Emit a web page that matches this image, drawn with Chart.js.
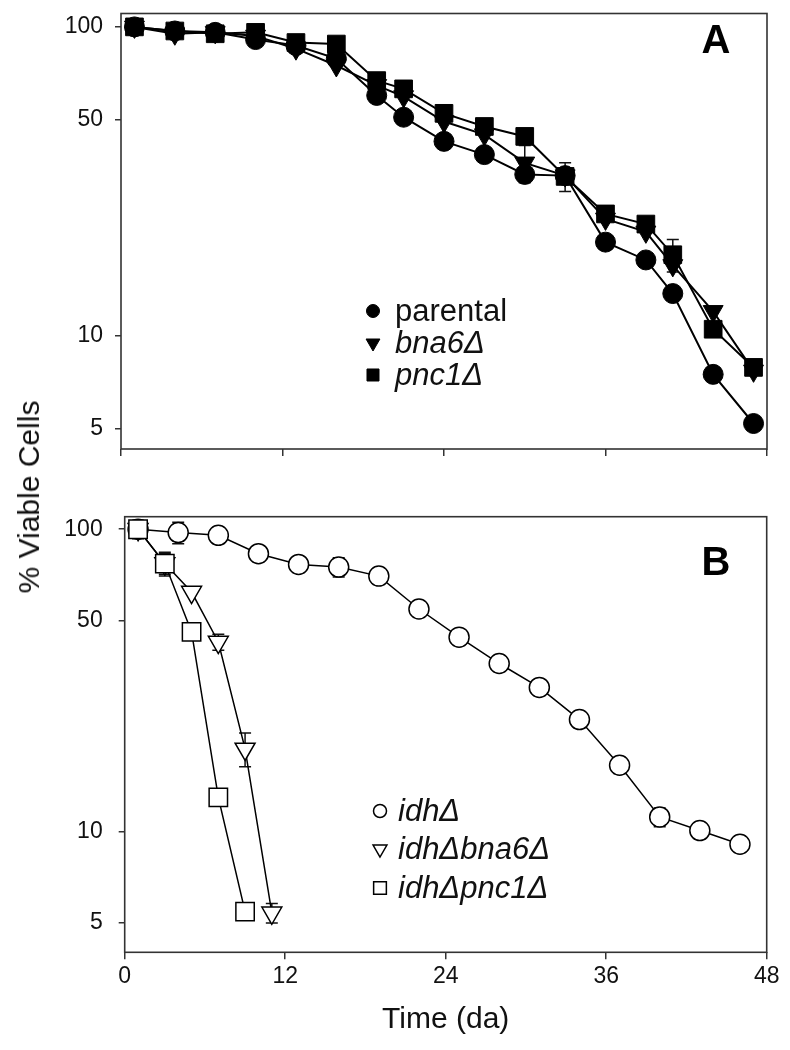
<!DOCTYPE html>
<html>
<head>
<meta charset="utf-8">
<script src="https://cdn.jsdelivr.net/npm/chart.js@4"></script>
<style>
html,body{margin:0;padding:0;background:#fff;}
#wrap{position:relative;width:790px;height:1050px;overflow:hidden;}
#cA{position:absolute;left:0;top:0;width:790px;height:480px;}
#cB{position:absolute;left:0;top:480px;width:790px;height:570px;}
#ytitle{position:absolute;left:29px;top:497px;transform:translate(-50%,-50%) rotate(-90deg);
  font:30px "Liberation Sans",Arial,sans-serif;white-space:nowrap;color:#111;}
</style>
</head>
<body>
<div id="wrap">
  <canvas id="cA" width="790" height="480"></canvas>
  <canvas id="cB" width="790" height="570"></canvas>
  <div id="ytitle">% Viable Cells</div>
</div>
<script>
// ---------- data ----------
const xTicks = [0, 12, 24, 36, 48];
const yTicks = [5, 10, 50, 100];

// Panel A
const timeA    = [1, 4, 7, 10, 13, 16, 19, 21, 24, 27, 30, 33, 36, 39, 41, 44, 47];
const parental = [100, 97, 96, 91, 87, 79, 60, 51, 42.6, 38.6, 33.3, 33, 20.1, 17.6, 13.7, 7.5, 5.2];
const bna6     = [100, 95, 96, 93.5, 85, 75, 64.7, 59.5, 49.4, 44.8, 36.3, 33, 23.9, 21.7, 16.9, 12.0, 7.7];
const pnc1     = [100, 97, 95, 96, 89, 88, 67, 63, 52.5, 47.6, 44.2, 32.8, 24.8, 23.0, 18.3, 10.5, 7.9];
const errParental = [null,null,null,null,null,null,null,null,null,null,null,null,null,null,null,null,null];
const errBna6     = [null,null,null,null,null,null,null,null,null,null,5,null,null,null,null,null,null];
const errPnc1     = [null,null,null,null,null,null,null,null,null,null,null,3.5,null,null,2.2,null,null];

// Panel B
const timeIdh  = [1, 4, 7, 10, 13, 16, 19, 22, 25, 28, 31, 34, 37, 40, 43, 46];
const idh      = [100, 97.5, 95.5, 83, 76.5, 75, 70, 54.5, 44, 36, 30, 23.5, 16.6, 11.2, 10.1, 9.1];
const errIdh   = [null, 8, null, null, null, 5.5, null, null, null, null, null, null, 1, 0.8, null, null];
const timeIdhBna6 = [1, 3, 5, 7, 9, 11];
const idhBna6     = [100, 77, 62, 42.4, 18.8, 5.4];
const errIdhBna6  = [null, 7, null, 2.6, 2.4, 0.4];
const timeIdhPnc1 = [1, 3, 5, 7, 9];
const idhPnc1     = [100, 77, 45.8, 13, 5.45];
const errIdhPnc1  = [7, 6, null, null, null];

// ---------- helpers ----------
const FONT = '"Liberation Sans", Arial, sans-serif';
const pts = (xs, ys) => xs.map((x, i) => ({x: x, y: ys[i]}));

const errorBars = {
  id: 'errorBars',
  beforeDatasetsDraw(chart) {
    const ctx = chart.ctx, ys = chart.scales.y;
    ctx.save();
    ctx.strokeStyle = '#111';
    ctx.lineWidth = 1.5;
    chart.data.datasets.forEach((ds, di) => {
      if (!ds.errors) return;
      const meta = chart.getDatasetMeta(di);
      ds.errors.forEach((e, i) => {
        if (e == null) return;
        const v = ds.data[i].y, el = meta.data[i];
        const yt = ys.getPixelForValue(v + e), yb = ys.getPixelForValue(v - e);
        ctx.beginPath();
        ctx.moveTo(el.x, yt); ctx.lineTo(el.x, yb);
        ctx.moveTo(el.x - 6, yt); ctx.lineTo(el.x + 6, yt);
        ctx.moveTo(el.x - 6, yb); ctx.lineTo(el.x + 6, yb);
        ctx.stroke();
      });
    });
    ctx.restore();
  }
};

const frame = {
  id: 'frame',
  beforeDatasetsDraw(chart) {
    const a = chart.chartArea, ctx = chart.ctx;
    ctx.save();
    ctx.strokeStyle = '#333';
    ctx.lineWidth = 1.6;
    ctx.strokeRect(a.left, a.top, a.right - a.left, a.bottom - a.top);
    ctx.restore();
  }
};

const innerLegend = {
  id: 'innerLegend',
  afterDraw(chart, args, o) {
    const ctx = chart.ctx;
    ctx.save();
    chart.data.datasets.forEach((ds, i) => {
      const y = o.rows[i];
      ctx.fillStyle = ds.backgroundColor;
      ctx.strokeStyle = ds.borderColor;
      ctx.lineWidth = ds.pointBorderWidth || 1;
      Chart.helpers.drawPoint(ctx, {
        pointStyle: ds.pointStyle, radius: o.radii[i],
        rotation: ds.pointRotation || 0, borderWidth: ds.pointBorderWidth || 1
      }, o.markerX, y);
      ctx.fillStyle = '#111';
      ctx.font = (ds.italic ? 'italic ' : '') + '31px ' + FONT;
      ctx.textAlign = 'left';
      ctx.textBaseline = 'alphabetic';
      ctx.fillText(ds.label, o.textX, y + 10);
    });
    ctx.fillStyle = '#000';
    ctx.font = 'bold 40px ' + FONT;
    ctx.textAlign = 'center';
    ctx.fillText(o.letter, o.letterX, o.letterY);
    ctx.restore();
  }
};

function makeScales(cfg) {
  return {
    x: {
      type: 'linear', min: 0, max: 48,
      afterBuildTicks: s => { s.ticks = xTicks.map(v => ({value: v})); },
      afterFit: s => { s.height = cfg.xHeight; s.paddingLeft = 0; s.paddingRight = 0; },
      grid: {drawOnChartArea: false, drawTicks: true, tickLength: 7, color: '#333', lineWidth: 1.5},
      border: {display: false},
      ticks: {display: cfg.showX, color: '#111', font: {family: FONT, size: 23}, padding: 4},
      title: {display: cfg.showX, text: 'Time (da)', color: '#111',
              font: {family: FONT, size: 30}, padding: {top: 0, bottom: 12}}
    },
    y: {
      type: 'logarithmic', min: cfg.ymin, max: cfg.ymax,
      afterBuildTicks: s => { s.ticks = yTicks.map(v => ({value: v})); },
      afterFit: s => { s.width = cfg.yWidth; s.paddingTop = 0; s.paddingBottom = 0; },
      grid: {drawOnChartArea: false, drawTicks: true, tickLength: 6, color: '#333', lineWidth: 1.5},
      border: {display: false},
      ticks: {color: '#111', font: {family: FONT, size: 23}, padding: cfg.yPad,
              callback: v => String(v)}
    }
  };
}

const common = {
  responsive: false, animation: false,
  plugins: {legend: {display: false}, tooltip: {enabled: false}}
};

// ---------- Panel A ----------
new Chart(document.getElementById('cA'), {
  type: 'line',
  data: {
    datasets: [
      {label: 'parental', italic: false, data: pts(timeA, parental), errors: errParental,
       borderColor: '#000', backgroundColor: '#000', borderWidth: 2,
       pointStyle: 'circle', pointRadius: 10, pointBorderWidth: 1, order: 2},
      {label: 'bna6Δ', italic: true, data: pts(timeA, bna6), errors: errBna6,
       borderColor: '#000', backgroundColor: '#000', borderWidth: 2,
       pointStyle: 'triangle', pointRotation: 180, pointRadius: 11.5, pointBorderWidth: 1, order: 1},
      {label: 'pnc1Δ', italic: true, data: pts(timeA, pnc1), errors: errPnc1,
       borderColor: '#000', backgroundColor: '#000', borderWidth: 2,
       pointStyle: 'rect', pointRadius: 12.5, pointBorderWidth: 1, order: 0}
    ]
  },
  options: Object.assign({}, common, {
    layout: {padding: {left: 0, right: 23, top: 9.5, bottom: 0}},
    scales: makeScales({xHeight: 31, showX: false, yWidth: 121, yPad: 12, ymin: 4.3, ymax: 110.5}),
    plugins: Object.assign({}, common.plugins, {
      innerLegend: {rows: [311, 343, 375], radii: [6.5, 8, 8.5], markerX: 373, textX: 395,
                    letter: 'A', letterX: 716, letterY: 53}
    })
  }),
  plugins: [frame, errorBars, innerLegend]
});

// ---------- Panel B ----------
new Chart(document.getElementById('cB'), {
  type: 'line',
  data: {
    datasets: [
      {label: 'idhΔ', italic: true, data: pts(timeIdh, idh), errors: errIdh,
       borderColor: '#000', backgroundColor: '#fff', borderWidth: 1.5,
       pointStyle: 'circle', pointRadius: 10, pointBorderWidth: 1.5, order: 2},
      {label: 'idhΔbna6Δ', italic: true, data: pts(timeIdhBna6, idhBna6), errors: errIdhBna6,
       borderColor: '#000', backgroundColor: '#fff', borderWidth: 1.5,
       pointStyle: 'triangle', pointRotation: 180, pointRadius: 11.5, pointBorderWidth: 1.5, order: 1},
      {label: 'idhΔpnc1Δ', italic: true, data: pts(timeIdhPnc1, idhPnc1), errors: errIdhPnc1,
       borderColor: '#000', backgroundColor: '#fff', borderWidth: 1.5,
       pointStyle: 'rect', pointRadius: 13, pointBorderWidth: 1.5, order: 0}
    ]
  },
  options: Object.assign({}, common, {
    layout: {padding: {left: 0, right: 23.3, top: 36.7, bottom: 0}},
    scales: makeScales({xHeight: 97.7, showX: true, yWidth: 124.7, yPad: 16, ymin: 4.0, ymax: 110}),
    plugins: Object.assign({}, common.plugins, {
      innerLegend: {rows: [331, 369, 408], radii: [6.5, 8, 9], markerX: 380, textX: 398,
                    letter: 'B', letterX: 716, letterY: 95}
    })
  }),
  plugins: [frame, errorBars, innerLegend]
});
</script>
</body>
</html>
